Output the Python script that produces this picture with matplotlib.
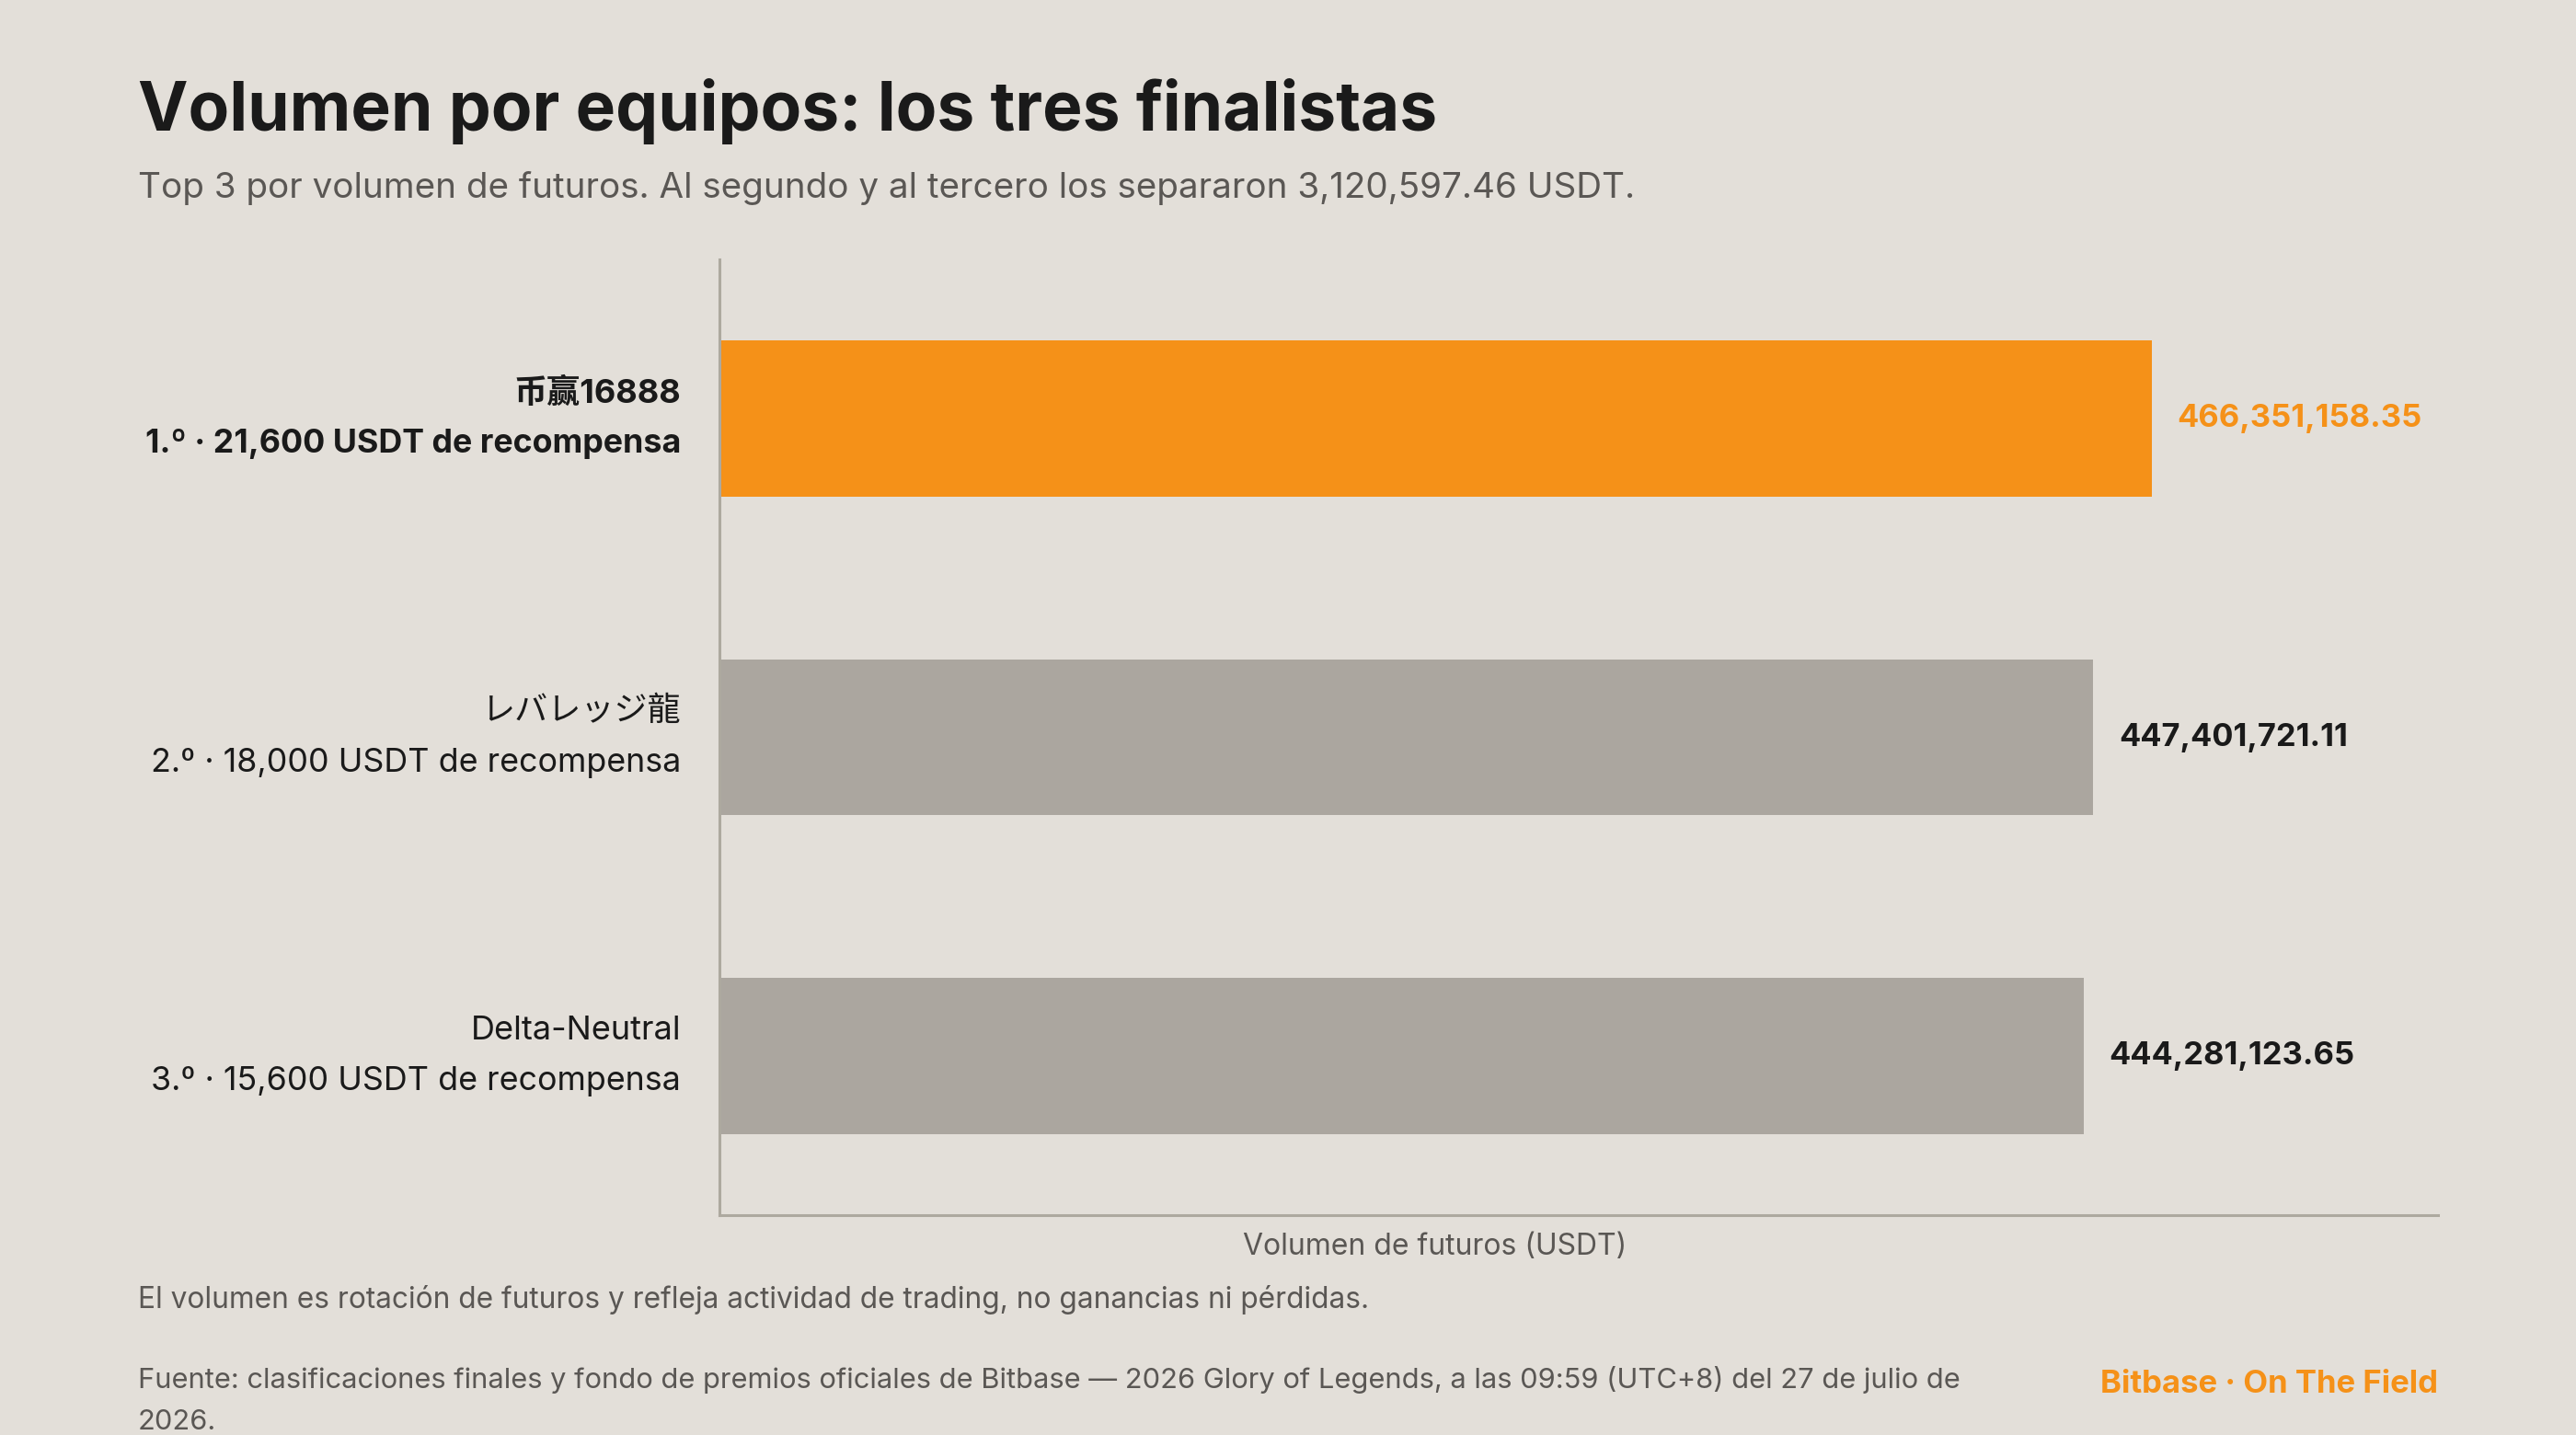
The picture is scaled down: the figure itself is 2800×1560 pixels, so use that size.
import matplotlib.pyplot as plt
from matplotlib.transforms import blended_transform_factory

# data
teams = ["币赢16888", "レバレッジ龍", "Delta-Neutral"]
places = ["1.º", "2.º", "3.º"]
rewards = [21600, 18000, 15600]
volumes = [466351158.35, 447401721.11, 444281123.65]

BG = "#E3DFD9"
ORANGE = "#F59118"
GREY = "#ABA69F"
DARK = "#1A1A1A"
MUTED = "#5A5754"

plt.rcParams["font.family"] = ["Inter", "Noto Sans CJK SC", "DejaVu Sans"]

fig = plt.figure(figsize=(14, 7.8), dpi=200, facecolor=BG)
ax = fig.add_axes([0.2793, 0.1532, 0.6671, 0.666])
ax.set_facecolor(BG)

y = list(range(len(teams)))
colors = [ORANGE] + [GREY] * (len(teams) - 1)
ax.barh(y, volumes, height=0.49, color=colors)

ax.set_ylim(2.5, -0.5)
ax.set_xlim(0, max(volumes) * 1.2)

for s in ["top", "right"]:
    ax.spines[s].set_visible(False)
for s in ["left", "bottom"]:
    ax.spines[s].set_color("#ADA99F")
    ax.spines[s].set_linewidth(1.1)
ax.set_xticks([])
ax.set_yticks([])

# value labels
for i, v in enumerate(volumes):
    ax.annotate(f"{v:,.2f}", xy=(v, i), xytext=(10, 0), textcoords="offset points",
                ha="left", va="center", fontsize=12.4, fontweight="bold",
                color=ORANGE if i == 0 else DARK)

# category labels (two lines)
trans = blended_transform_factory(ax.transAxes, ax.transData)
for i, (t, p, r) in enumerate(zip(teams, places, rewards)):
    w = "bold" if i == 0 else "normal"
    ax.annotate(t, xy=(0, i), xycoords=trans, xytext=(-15, 10), textcoords="offset points",
                ha="right", va="center", fontsize=13, fontweight=w, color=DARK)
    ax.annotate(f"{p} · {r:,} USDT de recompensa", xy=(0, i), xycoords=trans,
                xytext=(-15, -10), textcoords="offset points",
                ha="right", va="center", fontsize=12.9, fontweight=w, color=DARK)

ax.set_xlabel("Volumen de futuros (USDT)", fontsize=11.5, color=MUTED)
ax.xaxis.set_label_coords(0.4165, -0.018)

gap = volumes[1] - volumes[2]
fig.text(0.0536, 0.909, "Volumen por equipos: los tres finalistas",
         fontsize=26.3, fontweight="bold", color=DARK, va="baseline")
fig.text(0.0536, 0.869, f"Top 3 por volumen de futuros. Al segundo y al tercero los separaron {gap:,.2f} USDT.",
         fontsize=13.9, color=MUTED, va="center")

fig.text(0.0536, 0.094, "El volumen es rotación de futuros y refleja actividad de trading, no ganancias ni pérdidas.",
         fontsize=11.4, color=MUTED, va="center")
fig.text(0.0536, 0.024,
         "Fuente: clasificaciones finales y fondo de premios oficiales de Bitbase — 2026 Glory of Legends, a las 09:59 (UTC+8) del 27 de julio de\n2026.",
         fontsize=11.1, color=MUTED, va="center", linespacing=1.74)
fig.text(0.9464, 0.035, "Bitbase · On The Field", fontsize=12.5, fontweight="bold",
         color=ORANGE, ha="right", va="center")

fig.savefig("out.png", dpi=200, facecolor=BG)
